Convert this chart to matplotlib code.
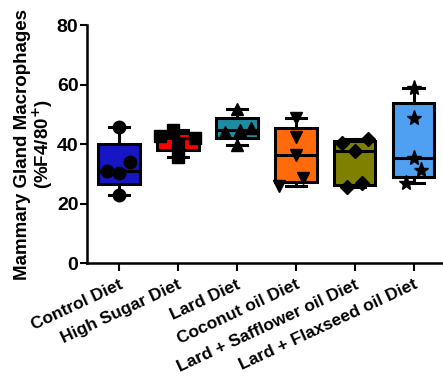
import numpy as np
import matplotlib
matplotlib.use("Agg")
import matplotlib.pyplot as plt

plt.rcParams["font.family"] = ["Liberation Sans", "DejaVu Sans"]
plt.rcParams["font.weight"] = "bold"

diets = ["Control Diet", "High Sugar Diet", "Lard Diet", "Coconut oil Diet",
         "Lard + Safflower oil Diet", "Lard + Flaxseed oil Diet"]

# % F4/80+ macrophages per mouse
control = [22.9, 30.2, 31.0, 34.0, 45.7]
high_sugar = [35.8, 40.0, 42.0, 42.8, 44.6]
lard = [39.8, 44.0, 44.8, 45.5, 51.8]
coconut = [25.8, 28.5, 36.3, 42.3, 48.6]
safflower = [25.5, 27.0, 37.5, 40.2, 41.8]
flaxseed = [26.8, 31.3, 35.2, 48.6, 58.7]
groups = [control, high_sugar, lard, coconut, safflower, flaxseed]

# horizontal scatter of the dots inside each box
jitter = [
    [0.0, 0.0, -0.2, 0.2, 0.0],
    [0.0, 0.0, 0.3, -0.3, -0.08],
    [0.0, -0.2, 0.05, 0.25, 0.0],
    [-0.28, 0.12, 0.0, 0.0, 0.0],
    [-0.12, 0.12, 0.0, -0.22, 0.22],
    [-0.12, 0.13, 0.0, 0.0, 0.0],
]
colors = ["#1616C4", "#FF0000", "#1E8CA3", "#FF6A0A", "#808000", "#4F9FF2"]
markers = ["o", "s", "^", "v", "D", "*"]
msizes = [9, 9, 9, 9, 7.5, 11]


def box_stats(vals):
    # quartiles as Prism computes them, whiskers min to max
    q1, med, q3 = np.percentile(vals, [25, 50, 75], method="weibull")
    return dict(med=med, q1=q1, q3=q3, whislo=min(vals), whishi=max(vals), fliers=[])


fig = plt.figure(figsize=(4.43, 3.79), dpi=100)
ax = fig.add_axes([0.196, 0.306, 0.804, 0.628])

pos = np.arange(len(groups))
stats = [box_stats(g) for g in groups]
lw = 2.2
bp = ax.bxp(stats, positions=pos, widths=0.71, capwidths=0.34, patch_artist=True,
            showfliers=False,
            boxprops=dict(linewidth=lw, edgecolor="black"),
            medianprops=dict(linewidth=lw, color="black"),
            whiskerprops=dict(linewidth=lw, color="black"),
            capprops=dict(linewidth=lw, color="black"))
for patch, c in zip(bp["boxes"], colors):
    patch.set_facecolor(c)

for i, (vals, dx) in enumerate(zip(groups, jitter)):
    ax.plot(pos[i] + np.array(dx), vals, linestyle="none", marker=markers[i],
            markersize=msizes[i], color="black", zorder=5)

ax.set_xlim(-0.54, 5.5)
ax.set_ylim(0, 80)
ax.set_yticks([0, 20, 40, 60, 80])
ax.set_xticks(pos)
ax.set_xticklabels(diets, rotation=25, ha="right", rotation_mode="anchor", fontsize=12.5)
ax.tick_params(axis="y", labelsize=14, width=1.5, length=5, pad=1)
ax.tick_params(axis="x", width=1.5, length=6, pad=4)
ax.set_ylabel("Mammary Gland Macrophages\n(%F4/80$^{\\mathbf{+}}$)", fontsize=13.5,
              fontweight="bold", linespacing=1.0)
ax.yaxis.set_label_coords(-0.09, 0.5)

for side in ["top", "right"]:
    ax.spines[side].set_visible(False)
for side in ["left", "bottom"]:
    ax.spines[side].set_linewidth(1.8)

fig.savefig("out.png", dpi=100)
